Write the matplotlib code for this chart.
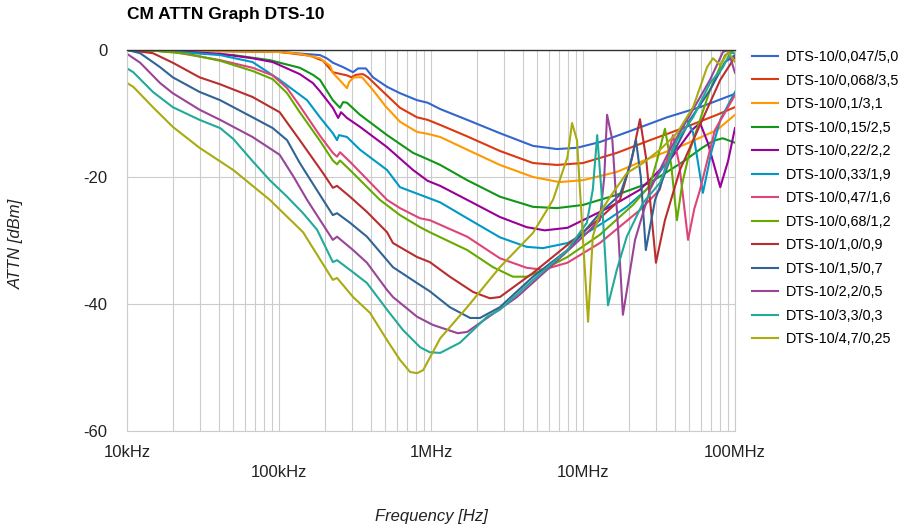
import matplotlib
matplotlib.use('Agg')
import matplotlib.pyplot as plt
from matplotlib.ticker import LogLocator, NullFormatter

plt.rcParams['font.family'] = ['Liberation Sans', 'DejaVu Sans']
plt.rcParams['axes.unicode_minus'] = False

# frequencies in Hz, attenuation in dB
f_047 = [10e3, 30e3, 100e3, 186e3, 206e3, 226e3, 264e3, 307e3, 331e3, 373e3, 415e3, 514e3, 625e3, 809e3,
         950e3, 1.15e6, 1.73e6, 2.84e6, 4.69e6, 6.74e6, 9.13e6, 12.9e6, 21.3e6, 35.7e6, 58.9e6, 100e6]
db_047 = [0, -0.1, -0.3, -0.8, -1.3, -2.0, -2.7, -3.5, -2.9, -2.9, -4.3, -5.8, -6.8, -7.9,
          -8.3, -9.3, -11.0, -13.1, -15.1, -15.6, -15.4, -14.5, -12.6, -10.6, -9.0, -6.9]

f_068 = [10e3, 100e3, 160e3, 195e3, 226e3, 280e3, 300e3, 321e3, 357e3, 385e3, 500e3, 625e3, 809e3, 950e3,
         1.15e6, 1.73e6, 2.84e6, 4.69e6, 6.74e6, 10e6, 16.7e6, 27.6e6, 45.5e6, 76.2e6, 100e6]
db_068 = [0, -0.3, -0.9, -1.7, -3.5, -4.0, -4.3, -3.9, -3.8, -4.3, -6.9, -9.1, -10.6, -11.0,
          -11.8, -13.6, -15.9, -17.8, -18.1, -17.8, -16.2, -14.2, -12.3, -10.2, -9.0]

f_01 = [10e3, 100e3, 137e3, 186e3, 217e3, 226e3, 252e3, 280e3, 290e3, 311e3, 352e3, 415e3, 500e3, 625e3,
        809e3, 950e3, 1.15e6, 1.73e6, 2.84e6, 4.69e6, 7e6, 10e6, 16.7e6, 27.6e6, 45.5e6, 76.2e6, 100e6]
db_01 = [0, -0.3, -0.6, -1.3, -2.5, -3.6, -4.8, -6.0, -5.0, -4.3, -4.3, -6.3, -8.8, -11.3,
         -12.9, -13.2, -13.7, -15.7, -18.1, -20.0, -20.8, -20.5, -19.2, -17.0, -15.0, -12.6, -10.2]

f_015 = [10e3, 14.8e3, 30e3, 50e3, 87e3, 137e3, 167e3, 186e3, 226e3, 252e3, 264e3, 280e3, 341e3, 514e3,
         762e3, 950e3, 1.15e6, 1.73e6, 2.84e6, 4.69e6, 6.74e6, 10e6, 16.7e6, 27.6e6, 45.5e6, 60e6, 72e6,
         83e6, 100e6]
db_015 = [0, -0.1, -0.5, -0.8, -1.6, -2.8, -3.9, -4.7, -7.9, -9.1, -8.2, -8.3, -10.2, -13.4,
          -16.2, -17.2, -18.1, -20.5, -23.1, -24.7, -24.9, -24.4, -22.8, -20.9, -17.6, -15.5, -14.3,
          -13.9, -14.6]

f_022 = [10e3, 25e3, 41e3, 67e3, 91e3, 137e3, 167e3, 186e3, 226e3, 245e3, 256e3, 280e3, 341e3, 514e3,
         762e3, 950e3, 1.15e6, 1.73e6, 2.84e6, 4.26e6, 5.6e6, 7.9e6, 10e6, 15.1e6, 23.7e6, 37.3e6, 52e6,
         58.9e6, 66e6, 80e6, 90e6, 100e6]
db_022 = [0, -0.3, -0.6, -1.3, -1.9, -3.8, -5.2, -6.5, -9.1, -10.7, -9.8, -10.7, -12.1, -15.3,
          -18.9, -20.6, -21.4, -23.6, -26.3, -27.9, -28.4, -28.0, -26.8, -24.7, -22.0, -17.3, -12.6,
          -11.5, -14.5, -21.6, -17.5, -12.3]

f_033 = [10e3, 19e3, 41e3, 67e3, 101e3, 153e3, 186e3, 226e3, 241e3, 248e3, 280e3, 341e3, 514e3, 625e3,
         1.15e6, 1.73e6, 2.84e6, 4.26e6, 5.45e6, 7.9e6, 10.6e6, 14.4e6, 19.4e6, 27.6e6, 37e6, 44e6,
         48.3e6, 53e6, 61.5e6, 70e6, 80e6, 100e6]
db_033 = [0, -0.2, -0.8, -1.9, -4.7, -7.9, -10.6, -13.1, -14.2, -13.4, -13.7, -15.7, -18.9, -21.6,
          -24.0, -26.5, -29.5, -31.0, -31.2, -30.4, -28.8, -26.8, -24.7, -21.5, -17.0, -12.5,
          -10.9, -13.0, -22.5, -16.0, -11.0, -6.6]

f_047b = [10e3, 19e3, 41e3, 67e3, 91e3, 113e3, 137e3, 186e3, 226e3, 241e3, 252e3, 293e3, 514e3, 625e3,
          847e3, 982e3, 1.73e6, 2.84e6, 4.26e6, 5.45e6, 7.9e6, 12.9e6, 23.7e6, 32e6, 36e6, 39.1e6, 43e6,
          49.1e6, 54e6, 58.9e6, 73.8e6, 100e6]
db_047b = [0, -0.2, -1.6, -2.8, -4.0, -6.0, -8.8, -13.5, -16.2, -16.8, -16.1, -17.6, -23.6, -24.9,
           -26.5, -26.8, -29.4, -32.8, -34.3, -34.6, -33.5, -30.4, -25.2, -22.0, -17.0, -13.4, -18.0,
           -29.9, -25.0, -22.0, -12.6, -7.1]

f_068b = [10e3, 14.8e3, 25e3, 41e3, 67e3, 91e3, 113e3, 137e3, 186e3, 226e3, 241e3, 252e3, 293e3, 461e3,
          625e3, 847e3, 982e3, 1.73e6, 2.56e6, 3.46e6, 4.26e6, 5.45e6, 7.9e6, 12.9e6, 21.3e6, 27.6e6,
          31e6, 34.6e6, 38e6, 41.5e6, 45e6, 50.6e6, 68.5e6, 86e6, 100e6]
db_068b = [0, -0.1, -0.6, -1.7, -3.3, -4.6, -6.8, -9.8, -14.3, -17.4, -18.0, -17.4, -18.9, -23.6,
           -26.0, -27.9, -28.7, -31.5, -34.2, -35.7, -35.7, -34.6, -32.6, -29.1, -24.4, -21.3,
           -17.0, -12.4, -18.0, -26.8, -21.0, -15.7, -6.3, -0.8, 0]

f_10 = [10e3, 14.8e3, 20e3, 30e3, 41e3, 67e3, 101e3, 137e3, 195e3, 226e3, 241e3, 293e3, 379e3, 514e3,
        562e3, 809e3, 982e3, 1.33e6, 1.89e6, 2.44e6, 2.84e6, 4.69e6, 7.9e6, 12.9e6, 17.5e6, 21e6, 23.7e6,
        26e6, 30.2e6, 34.6e6, 43.4e6, 58.9e6, 80e6, 100e6]
db_10 = [0, -0.5, -2.0, -4.3, -5.4, -7.4, -9.8, -14.2, -19.4, -21.7, -21.4, -23.1, -25.5, -28.7,
         -30.4, -32.6, -33.4, -35.7, -38.1, -39.1, -38.9, -35.1, -30.7, -26.5, -23.6, -17.0, -10.9,
         -17.0, -33.5, -26.8, -18.9, -11.8, -4.7, -1.1]

f_15 = [10e3, 12.2e3, 16.5e3, 20e3, 30e3, 41e3, 67e3, 91e3, 113e3, 137e3, 195e3, 226e3, 241e3, 293e3,
        379e3, 562e3, 809e3, 982e3, 1.33e6, 1.81e6, 2.1e6, 2.84e6, 4.69e6, 7.9e6, 10e6, 12.9e6, 17.5e6,
        20.5e6, 22.3e6, 24e6, 25.9e6, 29.8e6, 37.3e6, 50.6e6, 68.5e6, 86e6, 100e6]
db_15 = [0, -0.5, -2.7, -4.3, -6.6, -7.9, -10.6, -12.3, -14.2, -17.8, -23.6, -26.0, -25.7, -27.2,
         -29.4, -34.2, -36.7, -38.0, -40.5, -42.2, -42.2, -40.5, -35.7, -31.5, -28.8, -25.7, -22.8,
         -18.0, -14.2, -20.0, -31.5, -23.6, -17.3, -11.0, -6.3, -1.9, -0.8]

f_22 = [10e3, 12.2e3, 16.5e3, 20e3, 30e3, 41e3, 67e3, 101e3, 125e3, 153e3, 226e3, 241e3, 307e3, 379e3,
        514e3, 562e3, 809e3, 1.03e6, 1.5e6, 1.73e6, 2.34e6, 3.68e6, 6.07e6, 10e6, 12.9e6, 13.8e6, 14.4e6,
        15.6e6, 17e6, 18.3e6, 22e6, 27.6e6, 37.3e6, 50.6e6, 68.5e6, 83.4e6, 90e6, 100e6]
db_22 = [-0.6, -2.0, -5.2, -6.8, -9.4, -11.0, -13.7, -16.5, -20.0, -23.6, -29.9, -29.4, -31.5, -33.5,
         -37.8, -38.9, -42.0, -43.3, -44.6, -44.4, -42.2, -38.9, -34.2, -29.4, -26.8, -20.0, -10.2,
         -14.2, -28.0, -41.7, -29.9, -22.0, -15.7, -10.2, -4.7, -0.3, 0, -3.6]

f_33 = [10e3, 11e3, 14.8e3, 20e3, 30e3, 41e3, 50e3, 67e3, 87e3, 113e3, 144e3, 178e3, 226e3, 241e3,
        307e3, 379e3, 514e3, 654e3, 847e3, 982e3, 1.15e6, 1.55e6, 2.34e6, 2.84e6, 4.69e6, 7.9e6, 10.6e6,
        11.6e6, 12.4e6, 13.2e6, 14.6e6, 16.7e6, 19.4e6, 24.8e6, 32.1e6, 41.5e6, 53e6, 68.5e6, 83.4e6,
        92.7e6, 100e6]
db_33 = [-2.9, -3.5, -6.6, -9.0, -11.0, -12.3, -14.0, -17.5, -20.5, -23.1, -25.7, -28.3, -33.4, -33.1,
         -35.0, -36.7, -40.9, -44.1, -46.8, -47.6, -47.7, -46.1, -42.0, -40.9, -36.2, -31.5, -27.2,
         -22.0, -13.4, -22.0, -40.2, -34.6, -29.4, -24.1, -20.9, -14.2, -10.6, -5.2, -2.7, -0.5, -0.5]

f_47 = [10e3, 11e3, 14.8e3, 20e3, 30e3, 50e3, 87e3, 144e3, 226e3, 241e3, 307e3, 397e3, 514e3, 625e3,
        728e3, 809e3, 889e3, 1.15e6, 1.73e6, 2.84e6, 4.69e6, 6.35e6, 7.9e6, 8.47e6, 9.13e6, 10e6, 10.8e6,
        11.6e6, 12.9e6, 15.1e6, 19.4e6, 24.8e6, 32.1e6, 41.5e6, 53e6, 65.5e6, 71.6e6, 80e6, 90e6, 100e6]
db_47 = [-5.2, -5.8, -9.0, -12.1, -15.4, -18.9, -23.6, -28.7, -36.2, -35.9, -38.9, -41.4, -45.7, -48.8,
         -50.7, -50.9, -50.4, -45.4, -40.5, -34.2, -28.8, -23.6, -16.9, -11.5, -14.2, -29.9, -42.8,
         -29.4, -25.7, -23.1, -19.4, -17.8, -15.7, -13.1, -9.0, -2.7, -1.3, -2.4, -0.3, -1.9]

labels = ['DTS-10/0,047/5,0', 'DTS-10/0,068/3,5', 'DTS-10/0,1/3,1', 'DTS-10/0,15/2,5',
          'DTS-10/0,22/2,2', 'DTS-10/0,33/1,9', 'DTS-10/0,47/1,6', 'DTS-10/0,68/1,2',
          'DTS-10/1,0/0,9', 'DTS-10/1,5/0,7', 'DTS-10/2,2/0,5', 'DTS-10/3,3/0,3',
          'DTS-10/4,7/0,25']
colors = ['#3366cc', '#dc3912', '#ff9900', '#109618', '#990099', '#0099c6', '#dd4477',
          '#66aa00', '#b82e2e', '#316395', '#994499', '#22aa99', '#aaaa11']
freqs = [f_047, f_068, f_01, f_015, f_022, f_033, f_047b, f_068b, f_10, f_15, f_22, f_33, f_47]
attn = [db_047, db_068, db_01, db_015, db_022, db_033, db_047b, db_068b, db_10, db_15, db_22, db_33, db_47]

fig = plt.figure(figsize=(9.05, 5.32), dpi=100)
ax = fig.add_axes([127 / 905, 1 - 431 / 532, 608 / 905, 381 / 532])

for f, d, c, lab in zip(freqs, attn, colors, labels):
    ax.plot(f, d, color=c, lw=1.5, label=lab, solid_joinstyle='round')

ax.set_xscale('log')
ax.set_xlim(1e4, 1e8)
ax.set_ylim(-60, 0)
ax.xaxis.set_minor_locator(LogLocator(base=10, subs=range(2, 10)))
ax.xaxis.set_minor_formatter(NullFormatter())
ax.set_xticks([1e4, 1e5, 1e6, 1e7, 1e8])
ax.set_xticklabels(['10kHz', '\n100kHz', '1MHz', '\n10MHz', '100MHz'])
for t in ax.get_xticklabels():
    t.set_linespacing(1.45)
ax.set_yticks([0, -20, -40, -60])
ax.set_yticklabels(['0', '-20', '-40', '-60'])
ax.grid(which='both', color='#cccccc', lw=0.8)
ax.set_axisbelow(True)
ax.tick_params(which='both', length=0)
ax.tick_params(axis='x', pad=10, labelsize=12, labelcolor='#222222')
ax.tick_params(axis='y', pad=14, labelsize=12, labelcolor='#222222')
for s in ['left', 'right', 'bottom']:
    ax.spines[s].set_color('#cccccc')
    ax.spines[s].set_linewidth(0.8)
ax.spines['top'].set_color('#333333')
ax.spines['top'].set_linewidth(1.0)

fig.text(127 / 905, 1 - 14 / 532, 'CM ATTN Graph DTS-10', fontsize=12.5, fontweight='bold', va='center')
fig.text(431 / 905, 1 - 516 / 532, 'Frequency [Hz]', style='italic', fontsize=12, ha='center',
         va='center', color='#222222')
fig.text(16 / 905, 1 - 244 / 532, 'ATTN [dBm]', style='italic', fontsize=12, rotation=90,
         ha='center', va='center', color='#222222')

ax.legend(loc='upper left', bbox_to_anchor=(752 / 905, 1 - 50 / 532), bbox_transform=fig.transFigure,
          frameon=False, fontsize=10.4, handlelength=1.8, handletextpad=0.55, labelspacing=0.66,
          borderpad=0, borderaxespad=0)

fig.savefig('out.png', dpi=100)
